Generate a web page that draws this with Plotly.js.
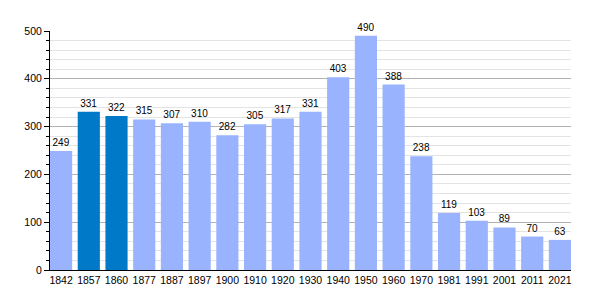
<!DOCTYPE html>
<html>
<head>
<meta charset="utf-8">
<script src="https://cdn.plot.ly/plotly-3.0.1.min.js"></script>
<style>html,body{margin:0;padding:0;background:#fff;}#chart{width:600px;height:300px;}</style>
</head>
<body>
<div id="chart"></div>
<script>
const years = ["1842","1857","1860","1877","1887","1897","1900","1910","1920","1930","1940","1950","1960","1970","1981","1991","2001","2011","2021"];
const population = [249,331,322,315,307,310,282,305,317,331,403,490,388,238,119,103,89,70,63];
const highlightYears = ["1857","1860"];
const lightColor = "#99b3ff";
const darkColor = "#0079c9";

const colors = years.map(y => highlightYears.includes(y) ? darkColor : lightColor);

const trace = {
  type: "bar",
  x: years,
  y: population,
  marker: {color: colors, line: {width: 0}},
  text: population.map(String),
  textposition: "outside",
  textfont: {family: "Liberation Sans, Arial, sans-serif", size: 10, color: "#000"},
  cliponaxis: false,
  hoverinfo: "none"
};

const layout = {
  width: 600, height: 300,
  margin: {l: 50, r: 29, t: 31, b: 30},
  paper_bgcolor: "#fff", plot_bgcolor: "#fff",
  bargap: 0.2,
  showlegend: false,
  font: {family: "Liberation Sans, Arial, sans-serif", size: 10, color: "#000"},
  xaxis: {
    type: "category",
    range: [-0.4, years.length - 0.6],
    showline: true, linecolor: "#000", linewidth: 1,
    ticks: "", showgrid: false, zeroline: false,
    tickfont: {size: 10.5, color: "#000"}
  },
  yaxis: {
    range: [0, 500],
    dtick: 100,
    showline: true, linecolor: "#000", linewidth: 1,
    ticks: "outside", ticklen: 5, tickcolor: "#000",
    showgrid: true, gridcolor: "#b3b3b3", gridwidth: 1,
    zeroline: false,
    tickfont: {size: 10.5, color: "#000"},
    minor: {dtick: 20, showgrid: true, gridcolor: "#e3e3e3", ticks: "outside", ticklen: 3, tickcolor: "#000"}
  }
};

Plotly.newPlot("chart", [trace], layout, {staticPlot: true, displayModeBar: false});
</script>
</body>
</html>
